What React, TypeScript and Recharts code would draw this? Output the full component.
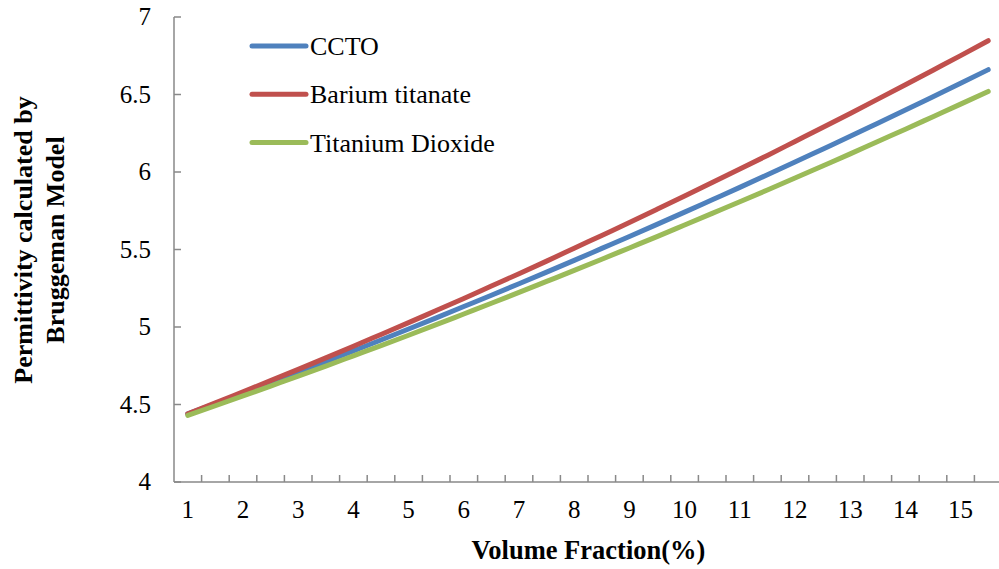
import React from "react";
import { LineChart, Line, XAxis, YAxis } from "recharts";

// Volume fraction (%) sampled every 0.5 from 1 to 15.5
const volumeFraction = [
  1, 1.5, 2, 2.5, 3, 3.5, 4, 4.5, 5, 5.5, 6, 6.5, 7, 7.5, 8, 8.5, 9, 9.5, 10,
  10.5, 11, 11.5, 12, 12.5, 13, 13.5, 14, 14.5, 15, 15.5,
];

// Bruggeman effective permittivity for each filler
const ccto = [
  4.44, 4.506, 4.572, 4.639, 4.707, 4.776, 4.846, 4.916, 4.987, 5.059, 5.132,
  5.205, 5.279, 5.354, 5.43, 5.507, 5.584, 5.662, 5.741, 5.821, 5.901, 5.982,
  6.064, 6.147, 6.23, 6.315, 6.4, 6.486, 6.572, 6.66,
];
const bariumTitanate = [
  4.44, 4.51, 4.582, 4.654, 4.727, 4.801, 4.876, 4.952, 5.028, 5.106, 5.184,
  5.264, 5.344, 5.425, 5.508, 5.591, 5.674, 5.759, 5.845, 5.932, 6.019, 6.107,
  6.197, 6.287, 6.378, 6.47, 6.563, 6.657, 6.751, 6.847,
];
const titaniumDioxide = [
  4.43, 4.492, 4.555, 4.619, 4.683, 4.748, 4.814, 4.88, 4.947, 5.015, 5.084,
  5.153, 5.223, 5.294, 5.365, 5.437, 5.51, 5.583, 5.658, 5.733, 5.808, 5.884,
  5.961, 6.039, 6.117, 6.197, 6.276, 6.357, 6.438, 6.52,
];

const xLabels = [1, 2, 3, 4, 5, 6, 7, 8, 9, 10, 11, 12, 13, 14, 15];
const yTicks = [4, 4.5, 5, 5.5, 6, 6.5, 7];

const series = [
  { key: "ccto", name: "CCTO", color: "#4F81BD", values: ccto },
  { key: "bt", name: "Barium titanate", color: "#C0504D", values: bariumTitanate },
  { key: "tio2", name: "Titanium Dioxide", color: "#9BBB59", values: titaniumDioxide },
];

const data = volumeFraction.map((x, i) => {
  const row: Record<string, number> = { x };
  series.forEach((s) => {
    row[s.key] = s.values[i];
  });
  return row;
});

// Labels sit at whole percentages; short marks sit between neighbouring samples
const xTickValues: number[] = [];
xLabels.forEach((v) => {
  xTickValues.push(v);
  xTickValues.push(v + 0.25);
  xTickValues.push(v + 0.75);
});

const FONT = "Liberation Serif";
const AXIS = "#898989";

const XTick = (props: any) => {
  const { x, y, payload } = props;
  const v = payload.value;
  if (Number.isInteger(v)) {
    return (
      <text x={x} y={y + 36} textAnchor="middle" fontFamily={FONT} fontSize={25} fill="#000">
        {v}
      </text>
    );
  }
  return <line x1={x} x2={x} y1={y} y2={y - 7} stroke={AXIS} strokeWidth={1.5} />;
};

const YTick = (props: any) => {
  const { x, y, payload } = props;
  return (
    <g>
      <line x1={x} x2={x + 7} y1={y} y2={y} stroke={AXIS} strokeWidth={1.5} />
      <text x={x - 23} y={y + 8} textAnchor="end" fontFamily={FONT} fontSize={25} fill="#000">
        {payload.value}
      </text>
    </g>
  );
};

export default function App() {
  return (
    <div
      style={{
        position: "absolute",
        left: 0,
        top: 0,
        width: 999,
        height: 569,
        overflow: "hidden",
        background: "#fff",
      }}
    >
      <LineChart
        width={1010}
        height={569}
        data={data}
        margin={{ top: 17, right: 8, bottom: 0, left: 0 }}
      >
        <XAxis
          dataKey="x"
          type="number"
          domain={[0.75, 15.75]}
          ticks={xTickValues}
          interval={0}
          tick={<XTick />}
          tickLine={false}
          tickSize={0}
          tickMargin={0}
          height={87}
          axisLine={{ stroke: AXIS, strokeWidth: 1.5 }}
          allowDataOverflow
        />
        <YAxis
          type="number"
          domain={[4, 7]}
          ticks={yTicks}
          interval={0}
          tick={<YTick />}
          tickLine={false}
          tickSize={0}
          tickMargin={0}
          width={174}
          axisLine={{ stroke: AXIS, strokeWidth: 1.5 }}
        />
        {series.map((s) => (
          <Line
            key={s.key}
            dataKey={s.key}
            name={s.name}
            type="monotone"
            stroke={s.color}
            strokeWidth={5}
            strokeLinecap="round"
            dot={false}
            activeDot={false}
            isAnimationActive={false}
          />
        ))}
      </LineChart>
      <svg
        width={999}
        height={569}
        style={{ position: "absolute", left: 0, top: 0, pointerEvents: "none" }}
      >
        {series.map((s, i) => {
          const cy = 46 + i * 48.3;
          return (
            <g key={s.key}>
              <line x1={252} x2={306} y1={cy} y2={cy} stroke={s.color} strokeWidth={5} strokeLinecap="round" />
              <text x={310} y={cy + 9} fontFamily={FONT} fontSize={26} fill="#000">
                {s.name}
              </text>
            </g>
          );
        })}
        <text
          transform="translate(32, 240) rotate(-90)"
          textAnchor="middle"
          fontFamily={FONT}
          fontSize={26}
          fontWeight="bold"
          fill="#000"
        >
          <tspan x={0} dy={0}>Permittivity calculated by</tspan>
          <tspan x={0} dy={32}>Bruggeman Model</tspan>
        </text>
        <text x={588.5} y={559} textAnchor="middle" fontFamily={FONT} fontSize={26.5} fontWeight="bold" fill="#000">
          Volume Fraction(%)
        </text>
      </svg>
    </div>
  );
}
